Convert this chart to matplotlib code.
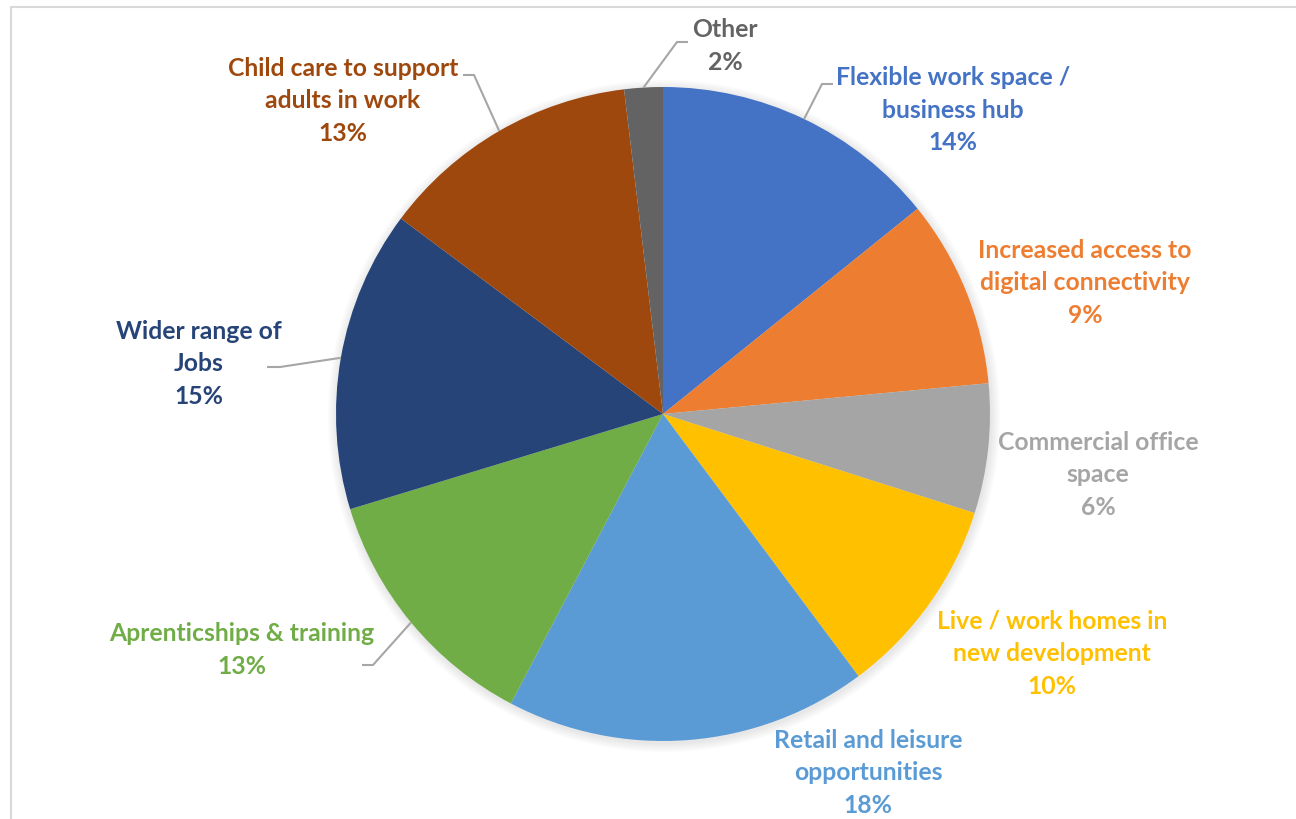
import numpy as np
import matplotlib
matplotlib.use("Agg")
import matplotlib.pyplot as plt
from matplotlib.patches import Circle

# slice data, clockwise from 12 o'clock (percent)
labels = [
    "Flexible work space /\nbusiness hub",
    "Increased access to\ndigital connectivity",
    "Commercial office\nspace",
    "Live / work homes in\nnew development",
    "Retail and leisure\nopportunities",
    "Aprenticships & training",
    "Wider range of\nJobs",
    "Child care to support\nadults in work",
    "Other",
]
values = [14.2, 9.3, 6.4, 9.9, 17.9, 12.6, 14.9, 12.9, 1.9]
colors = ["#4472C4", "#ED7D31", "#A5A5A5", "#FFC000", "#5B9BD5",
          "#70AD47", "#264478", "#9E480E", "#636363"]

W, H = 1296, 820
fig = plt.figure(figsize=(W / 100, H / 100), dpi=100)
ax = fig.add_axes([0, 0, 1, 1])

# chart frame (cut off on right/bottom in the source)
ax.plot([11, 11, W + 5], [-5, H - 8, H - 8], color="#d9d9d9", lw=1.5)

cx, cy, r = 663, H - 415, 327

# soft shadow
for k in range(8):
    ax.add_patch(Circle((cx + 1, cy - 2), r + 1 + k * 1.2, color="black",
                        alpha=0.012, lw=0, zorder=1))

wedges, _ = ax.pie(values, colors=colors, startangle=90, counterclock=False,
                   center=(cx, cy), radius=r, frame=True,
                   wedgeprops=dict(linewidth=0))
for w in wedges:
    w.set_zorder(2)
ax.set_xlim(0, W)
ax.set_ylim(0, H)
ax.set_aspect("equal")
ax.axis("off")

# label centres (pixels from top-left) and optional leader-line elbows
label_pos = [(953, 110), (1085, 283), (1098, 475), (1052, 654), (868, 773),
             (242, 650), (199, 364), (343, 101), (725, 46)]
elbows = {0: ((833, 85), (822, 85)),
          5: ((362, 666), (373, 666)),
          6: ((267, 368), (280, 368)),
          7: ((463, 76), (474, 76)),
          8: ((688, 43), (677, 43))}

total = sum(values)
start = 90.0
for i, (lab, v) in enumerate(zip(labels, values)):
    sweep = 360.0 * v / total
    mid = np.radians(start - sweep / 2)
    start -= sweep
    x, y = label_pos[i]
    ax.text(x, H - y, f"{lab}\n{round(v)}%", ha="center", va="center",
            color=colors[i], fontsize=17.8, fontweight="bold",
            family=["Lato", "DejaVu Sans"], linespacing=1.5, zorder=4)
    if i in elbows:
        (x0, y0), (x1, y1) = elbows[i]
        ex, ey = cx + r * np.cos(mid), cy + r * np.sin(mid)
        ax.plot([x0, x1, ex], [H - y0, H - y1, ey], color="#a6a6a6",
                lw=1.5, zorder=3, solid_capstyle="butt")

fig.savefig("out.png", dpi=100)
